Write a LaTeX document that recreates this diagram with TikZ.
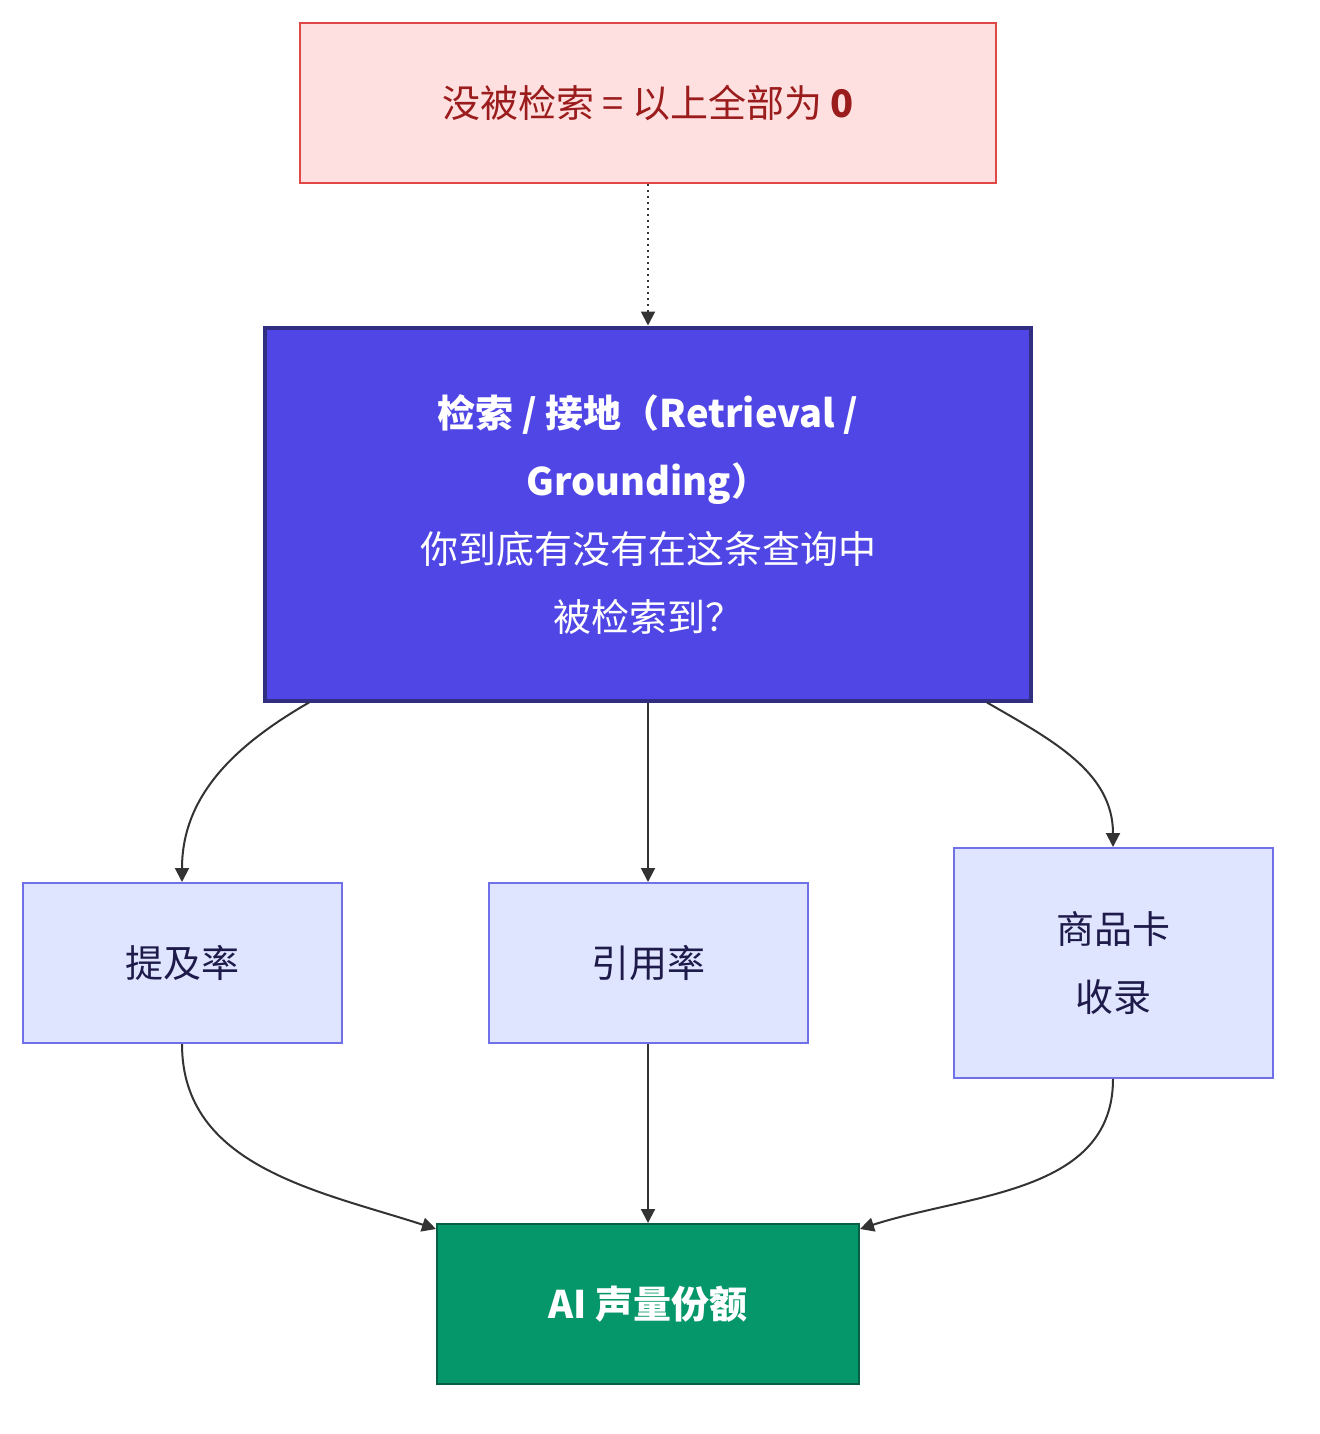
\documentclass[tikz,border=0pt]{standalone}
\usepackage{fontspec}
\setmainfont{Noto Sans CJK SC}
\usetikzlibrary{arrows.meta,positioning}
\definecolor{warnfill}{HTML}{FFE0E0}
\definecolor{warndraw}{HTML}{E04848}
\definecolor{warntext}{HTML}{9B1C1C}
\definecolor{corefill}{HTML}{5046E5}
\definecolor{coredraw}{HTML}{312E81}
\definecolor{metricfill}{HTML}{E0E5FF}
\definecolor{metricdraw}{HTML}{7070E8}
\definecolor{metrictext}{HTML}{1E1B4B}
\definecolor{sharefill}{HTML}{059669}
\definecolor{sharedraw}{HTML}{065F46}
\definecolor{linkcol}{HTML}{333333}
\tikzset{
  box/.style={rectangle,draw,align=center,inner sep=0pt,font=\fontsize{19}{34}\selectfont},
  metric/.style={box,fill=metricfill,draw=metricdraw,text=metrictext,line width=1pt,minimum width=159.5pt},
  link/.style={draw=linkcol,line width=1pt,-{Triangle[length=7pt,width=7pt]}}
}
\begin{document}
\begin{tikzpicture}[x=0.5pt,y=-0.5pt]
	\useasboundingbox (0,0) rectangle (1320,1434);
	\node [box,fill=warnfill,draw=warndraw,text=warntext,line width=1pt,
	  minimum width=348pt,minimum height=80pt] (zero) at (648,103)
	  {没被检索 = 以上全部为 \textbf{0}};
	\node [box,fill=corefill,draw=coredraw,text=white,line width=2pt,
	  minimum width=383pt,minimum height=186.5pt] (core) at (648,514)
	  {\textbf{检索 / 接地（Retrieval /}\\ \textbf{Grounding）}\\ 你到底有没有在这条查询中\\ 被检索到？};
	\node [metric,minimum height=80pt] (mention) at (182,963) {提及率};
	\node [metric,minimum height=80pt] (cite) at (648,963) {引用率};
	\node [metric,minimum height=115pt] (card) at (1113,963) {商品卡\\ 收录};
	\node [box,fill=sharefill,draw=sharedraw,text=white,line width=1pt,
	  minimum width=211pt,minimum height=80pt] (share) at (648,1304)
	  {\textbf{AI 声量份额}};
	% edges
	\draw [link,dotted] (zero) -- (core);
	\draw [link] ([xshift=23pt]core.south west) to[out=-150,in=90] (mention.north);
	\draw [link] (core) -- (cite);
	\draw [link] ([xshift=-23pt]core.south east) to[out=-30,in=90] (card.north);
	\draw [link] (mention.south) to[out=-90,in=162] ([yshift=-3pt]share.north west);
	\draw [link] (cite) -- (share);
	\draw [link] (card.south) to[out=-90,in=18] ([yshift=-3pt]share.north east);
\end{tikzpicture}
\end{document}
